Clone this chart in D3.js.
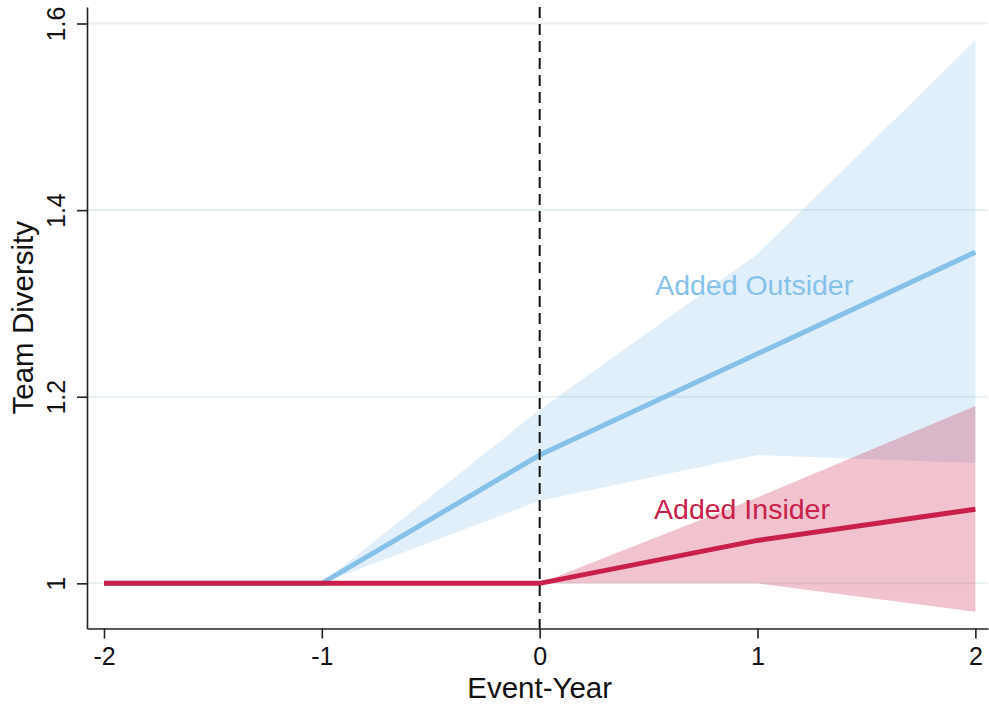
<!DOCTYPE html>
<html>
<head>
<meta charset="utf-8">
<script src="https://cdn.jsdelivr.net/npm/d3@7"></script>
<style>
  html, body { margin: 0; padding: 0; background: #fff; }
  svg { display: block; font-family: "Liberation Sans", Arial, Helvetica, sans-serif; }
</style>
</head>
<body>
<svg id="chart" width="989" height="708"></svg>
<script>
// Event-study estimates: team diversity around the event year
const eventYears = [-2, -1, 0, 1, 2];

const outsiderEst   = [1.000, 1.000, 1.1375, 1.246, 1.355];
const outsiderLower = [1.000, 1.000, 1.0885, 1.1375, 1.129];
const outsiderUpper = [1.000, 1.000, 1.186, 1.353, 1.582];

const insiderEst   = [1.000, 1.000, 1.000, 1.046, 1.0795];
const insiderLower = [1.000, 1.000, 1.000, 1.000, 0.9695];
const insiderUpper = [1.000, 1.000, 1.000, 1.092, 1.190];

const xTicks = [-2, -1, 0, 1, 2];
const yTicks = [1, 1.2, 1.4, 1.6];
const yTickLabels = ["1", "1.2", "1.4", "1.6"];

const seriesLabels = [
  { text: "Added Outsider", x: 0.53, y: 1.309, color: "#85c1e9" },
  { text: "Added Insider",  x: 0.525, y: 1.0686, color: "#c8204a" }
];

const svg = d3.select("#chart");

const x = d3.scaleLinear().domain([-2.078, 2.058]).range([87, 988]);
const y = d3.scaleLinear().domain([0.9516, 1.6177]).range([628.5, 7]);

const [x0, x1] = x.range();
const [yBottom, yTop] = y.range();

// horizontal grid lines
svg.append("g")
  .selectAll("line")
  .data(yTicks)
  .join("line")
  .attr("x1", x0).attr("x2", x1)
  .attr("y1", d => y(d)).attr("y2", d => y(d))
  .attr("stroke", "#e7f0f1")
  .attr("stroke-width", 2);

function rows(lo, hi, est) {
  return eventYears.map((t, i) => ({ t, lo: lo[i], hi: hi[i], est: est[i] }));
}
const outsider = rows(outsiderLower, outsiderUpper, outsiderEst);
const insider = rows(insiderLower, insiderUpper, insiderEst);

const band = d3.area().x(d => x(d.t)).y0(d => y(d.lo)).y1(d => y(d.hi));
const line = d3.line().x(d => x(d.t)).y(d => y(d.est));

// confidence bands
svg.append("path").datum(outsider)
  .attr("d", band).attr("fill", "#85c1e9").attr("fill-opacity", 0.25);
svg.append("path").datum(insider)
  .attr("d", band).attr("fill", "#c8204a").attr("fill-opacity", 0.27);

// point-estimate lines
svg.append("path").datum(outsider)
  .attr("d", line).attr("fill", "none")
  .attr("stroke", "#85c1e9").attr("stroke-width", 5);
svg.append("path").datum(insider)
  .attr("d", line).attr("fill", "none")
  .attr("stroke", "#c8204a").attr("stroke-width", 5);

// event-year reference line
svg.append("line")
  .attr("x1", x(0)).attr("x2", x(0))
  .attr("y1", yTop).attr("y2", yBottom)
  .attr("stroke", "#111").attr("stroke-width", 2)
  .attr("stroke-dasharray", "11,6");

// series labels
svg.append("g")
  .selectAll("text")
  .data(seriesLabels)
  .join("text")
  .attr("x", d => x(d.x)).attr("y", d => y(d.y))
  .attr("fill", d => d.color)
  .attr("font-size", 28.5)
  .text(d => d.text);

// axes
const xAxis = svg.append("g")
  .attr("transform", `translate(0,${yBottom})`)
  .call(d3.axisBottom(x).tickValues(xTicks).tickSize(10).tickSizeOuter(0)
    .tickFormat(d3.format("d")));
xAxis.select(".domain").attr("stroke", "#222").attr("stroke-width", 1.6);
xAxis.selectAll(".tick line").attr("stroke", "#222").attr("stroke-width", 1.6);
xAxis.selectAll(".tick text")
  .attr("y", 36.5).attr("dy", 0)
  .attr("font-size", 25).attr("fill", "#111")
  .text(d => d < 0 ? "-" + Math.abs(d) : d);

const yAxis = svg.append("g")
  .attr("transform", `translate(${x0},0)`)
  .call(d3.axisLeft(y).tickValues(yTicks).tickSize(10).tickSizeOuter(0)
    .tickFormat((d, i) => yTickLabels[i]));
yAxis.select(".domain").attr("stroke", "#222").attr("stroke-width", 1.6);
yAxis.selectAll(".tick line").attr("stroke", "#222").attr("stroke-width", 1.6);
yAxis.selectAll(".tick text")
  .attr("x", 0).attr("dy", 0)
  .attr("transform", "translate(-22,0) rotate(-90)")
  .attr("text-anchor", "middle")
  .attr("font-size", 25).attr("fill", "#111");

// axis titles
svg.append("text")
  .attr("x", x(0)).attr("y", 698)
  .attr("text-anchor", "middle")
  .attr("font-size", 29.5).attr("fill", "#111")
  .text("Event-Year");

svg.append("text")
  .attr("transform", `translate(33,${(yTop + yBottom) / 2}) rotate(-90)`)
  .attr("text-anchor", "middle")
  .attr("font-size", 29.5).attr("fill", "#111")
  .text("Team Diversity");
</script>
</body>
</html>
